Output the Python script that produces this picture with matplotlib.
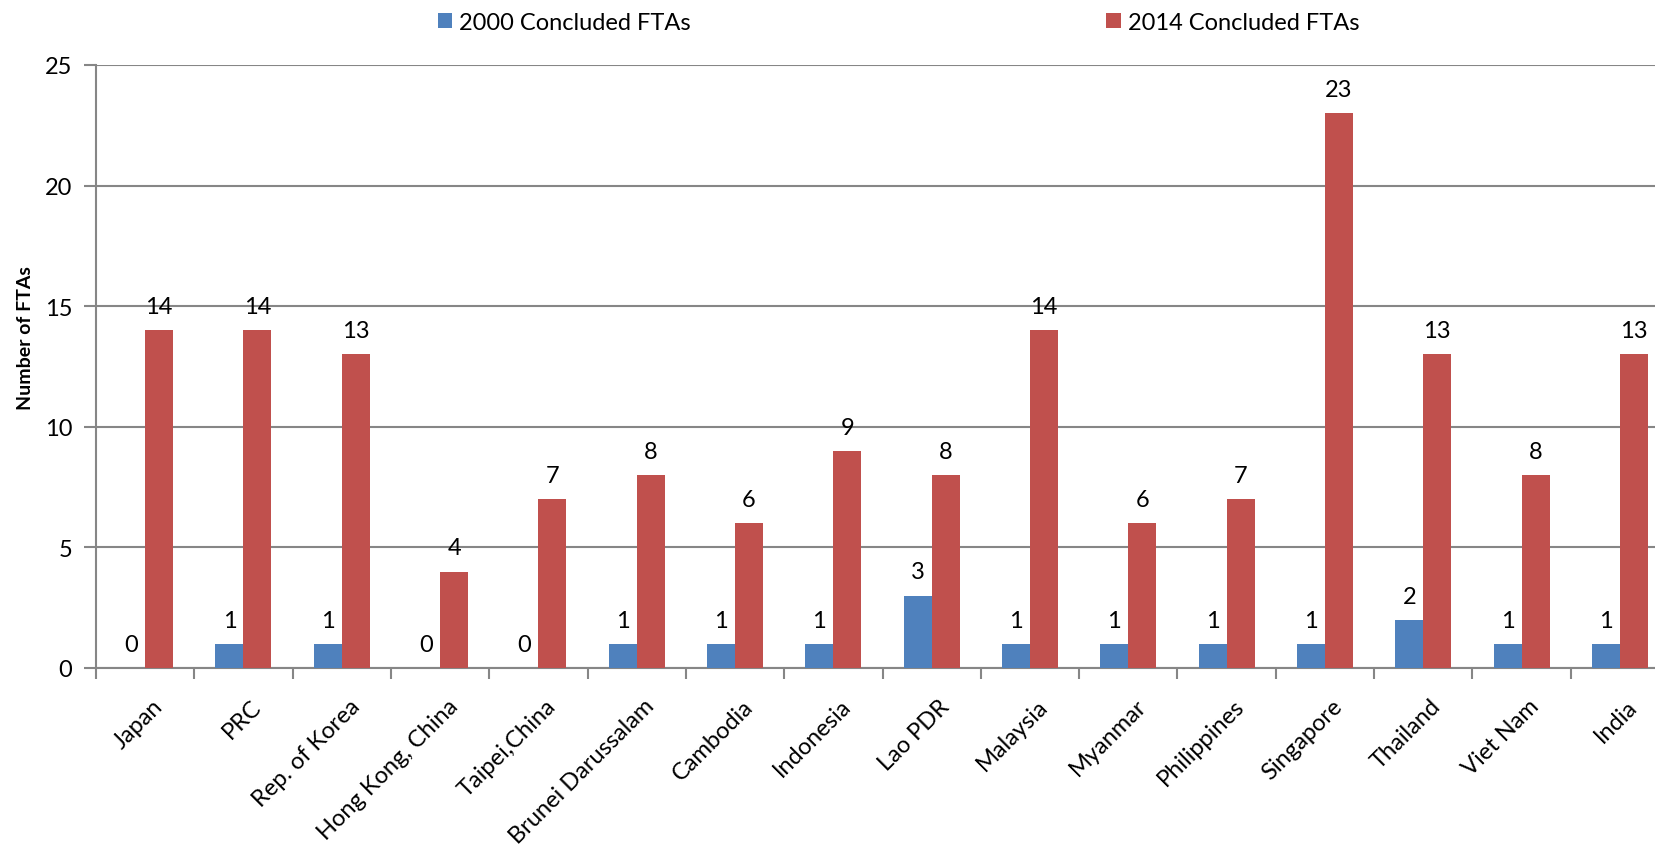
import numpy as np
import matplotlib.pyplot as plt

countries = ["Japan", "PRC", "Rep. of Korea", "Hong Kong, China", "Taipei,China",
             "Brunei Darussalam", "Cambodia", "Indonesia", "Lao PDR", "Malaysia",
             "Myanmar", "Philippines", "Singapore", "Thailand", "Viet Nam", "India"]
fta_2000 = [0, 1, 1, 0, 0, 1, 1, 1, 3, 1, 1, 1, 1, 2, 1, 1]
fta_2014 = [14, 14, 13, 4, 7, 8, 6, 9, 8, 14, 6, 7, 23, 13, 8, 13]
series_names = ["2000 Concluded FTAs", "2014 Concluded FTAs"]

plt.rcParams['font.family'] = ['Lato', 'DejaVu Sans']
grey = "#868686"
blue = "#4F81BD"
red = "#C0504D"
fs = 17

fig = plt.figure(figsize=(16.55, 8.45), dpi=100)
# the plot area runs past the right edge of the picture, as in the original
ax = fig.add_axes([96 / 1655, (845 - 669) / 845, (1669 - 96) / 1655, (669 - 66) / 845])

x = np.arange(len(countries))
w = 0.285
b1 = ax.bar(x - w / 2, fta_2000, w, color=blue, label=series_names[0], zorder=3)
b2 = ax.bar(x + w / 2, fta_2014, w, color=red, label=series_names[1], zorder=3)

for bars in (b1, b2):
    for r in bars:
        ax.annotate("%d" % r.get_height(), (r.get_x() + r.get_width() / 2, r.get_height()),
                    xytext=(0, 9.5), textcoords="offset points", ha="center", va="bottom",
                    fontsize=fs, color="black")

# category names, rotated, their top-right end just right of the category centre
for i, name in enumerate(countries):
    ax.annotate(name, (i, 0), xytext=(5, -19.5), textcoords="offset points",
                ha="right", va="top", rotation=45, rotation_mode="anchor",
                fontsize=fs, annotation_clip=False)

ax.set_xlim(-0.5, len(countries) - 0.5)
ax.set_ylim(0, 25)
ax.set_yticks(range(0, 26, 5))
ax.yaxis.grid(True, color=grey, linewidth=1.5, zorder=0)
ax.set_axisbelow(True)

ax.set_xticks(np.arange(len(countries) + 1) - 0.5)
ax.set_xticklabels([])
ax.tick_params(axis="x", length=8, width=1.5, color=grey, direction="out")
ax.tick_params(axis="y", length=9, width=1.5, color=grey, labelsize=fs, pad=8)

for s in ["top", "right"]:
    ax.spines[s].set_visible(False)
for s in ["left", "bottom"]:
    ax.spines[s].set_color(grey)
    ax.spines[s].set_linewidth(1.5)

ax.set_ylabel("Number of FTAs", fontsize=14, fontweight="bold")
ax.yaxis.set_label_coords((34 - 96) / 1573, (669 - 338) / 603)

fig.legend(handles=[b1, b2], loc="center left", bbox_to_anchor=(438 / 1655, 1 - 23 / 845),
           ncol=2, frameon=False, fontsize=fs, handlelength=0.6, handleheight=0.6,
           handletextpad=0.3, columnspacing=17.6, borderpad=0, borderaxespad=0)

fig.savefig("out.png", dpi=100)
